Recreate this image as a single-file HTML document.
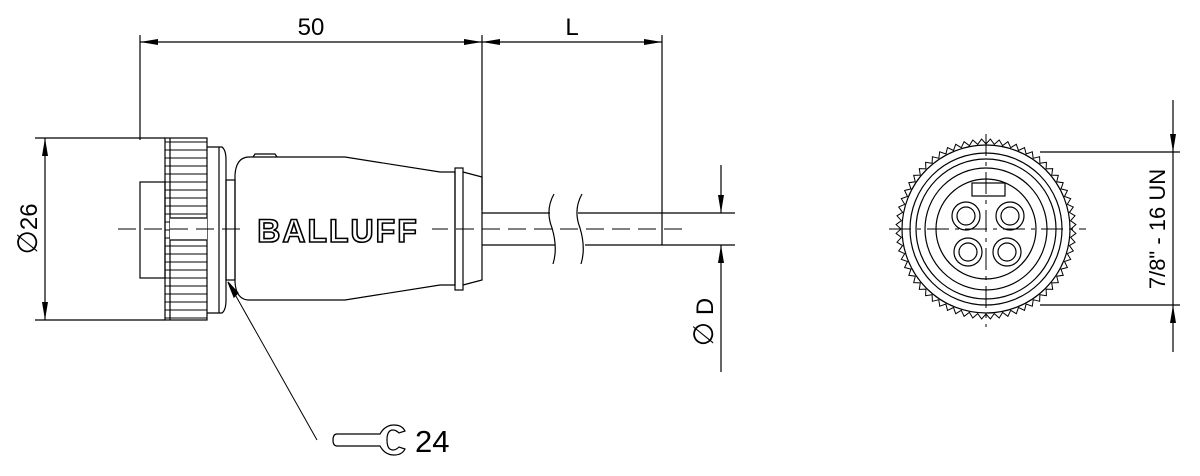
<!DOCTYPE html>
<html><head><meta charset="utf-8"><style>
html,body{margin:0;padding:0;background:#fff;}
svg{display:block;}
text{font-family:"Liberation Sans","DejaVu Sans",sans-serif;fill:#000;}
</style></head><body>
<svg width="1200" height="476" viewBox="0 0 1200 476" xmlns="http://www.w3.org/2000/svg">
<defs>
<marker id="ar" markerWidth="18" markerHeight="8" refX="18" refY="4" orient="auto" markerUnits="userSpaceOnUse">
<path d="M0,1 L18,4 L0,7 Z" fill="#000"/></marker>
<pattern id="knurl" x="0" y="138" width="42" height="8" patternUnits="userSpaceOnUse">
<line x1="0" y1="4" x2="42" y2="4" stroke="#000" stroke-width="1"/></pattern>
</defs>
<g stroke="#000" fill="none" stroke-width="1.2">
<line x1="140" y1="35" x2="140" y2="140"/>
<line x1="482" y1="35" x2="482" y2="210"/>
<line x1="662" y1="35" x2="662" y2="213"/>
<line x1="311" y1="42" x2="140" y2="42" marker-end="url(#ar)"/>
<line x1="311" y1="42" x2="482" y2="42" marker-end="url(#ar)"/>
<line x1="572" y1="42" x2="482" y2="42" marker-end="url(#ar)"/>
<line x1="572" y1="42" x2="662" y2="42" marker-end="url(#ar)"/>
<line x1="35" y1="138" x2="165" y2="138"/>
<line x1="35" y1="320" x2="165" y2="320"/>
<line x1="45" y1="229" x2="45" y2="138" marker-end="url(#ar)"/>
<line x1="45" y1="229" x2="45" y2="320" marker-end="url(#ar)"/>
<line x1="662" y1="213" x2="735" y2="213"/>
<line x1="662" y1="245" x2="735" y2="245"/>
<line x1="721" y1="165" x2="721" y2="213" marker-end="url(#ar)"/>
<line x1="721" y1="372" x2="721" y2="245" marker-end="url(#ar)"/>
<rect x="140" y="182" width="25" height="96"/>
<rect x="165" y="138" width="42" height="182" fill="url(#knurl)"/>
<line x1="170" y1="138" x2="170" y2="320"/>
<rect x="170" y="218" width="37" height="22" fill="#fff" stroke="none"/>
<line x1="170" y1="218" x2="207" y2="218"/><line x1="170" y1="240" x2="207" y2="240"/>
<path d="M207,147 L222,147 Q226,150 226,160 L226,300 Q226,310 222,313 L207,313"/>
<line x1="219" y1="147" x2="219" y2="313"/>
<rect x="226" y="180" width="9" height="100"/>
<path d="M235,175 Q236,158 248,157 L345,157 L440,172 L455,172 L455,285 L440,285 L345,300 L248,300 Q236,299 235,282 Z"/>
<path d="M253,157 L255,154 L275,154 L277,157"/>
<rect x="455" y="168" width="8" height="122"/>
<path d="M463,172 L482,177 L482,280 L463,285"/>
<line x1="482" y1="213" x2="550" y2="213"/>
<line x1="482" y1="245" x2="555" y2="245"/>
<line x1="578" y1="213" x2="662" y2="213"/>
<line x1="585" y1="245" x2="662" y2="245"/>
<line x1="662" y1="213" x2="662" y2="245"/>
<path d="M554,194 Q545,210 552,228 Q558,248 553,264"/>
<path d="M582,194 Q573,210 580,228 Q586,248 581,264"/>
<line x1="118" y1="229" x2="682" y2="229" stroke-dasharray="18,8" stroke-width="1"/>
<rect x="248" y="212" width="184" height="34" fill="#fff" stroke="none"/>
<line x1="228" y1="282" x2="317" y2="440" stroke-width="1"/>
<path d="M228,282 L234,297 L238,293 Z" fill="#000"/>
<path d="M337,434 L380,434 Q385,425 394,425 Q402,425 405,431 L399,433 Q396,430 393,430 Q387,430 387,440 Q387,450 393,450 Q396,450 399,447 L405,449 Q402,455 394,455 Q385,455 380,446 L337,446 Q333,446 333,440 Q333,434 337,434 Z"/>
<g transform="translate(986,229)">
<polygon id="teeth" points="" stroke-width="1"/>
<circle r="84"/>
<circle r="76"/>
<circle r="70"/>
<circle r="61"/>
<circle r="50"/>
<rect x="-14" y="-46" width="33" height="13"/>
<circle cx="-20" cy="-13" r="14"/><circle cx="-20" cy="-13" r="9"/>
<circle cx="24" cy="-13" r="14"/><circle cx="24" cy="-13" r="9"/>
<circle cx="-18" cy="23" r="14"/><circle cx="-18" cy="23" r="9"/>
<circle cx="21" cy="23" r="14"/><circle cx="21" cy="23" r="9"/>
<line x1="-97" y1="0" x2="100" y2="0" stroke-dasharray="22,6,4,6" stroke-width="1"/>
<line x1="0" y1="-95" x2="0" y2="98" stroke-dasharray="22,6,4,6" stroke-width="1"/>
</g>
<line x1="1040" y1="152" x2="1180" y2="152"/>
<line x1="1040" y1="305" x2="1180" y2="305"/>
<line x1="1173" y1="100" x2="1173" y2="152" marker-end="url(#ar)"/>
<line x1="1173" y1="352" x2="1173" y2="305" marker-end="url(#ar)"/>
<line x1="1173" y1="152" x2="1173" y2="305"/>
</g>
<text x="338" y="242" font-size="32" font-weight="bold" text-anchor="middle" stroke="#000" stroke-width="1.6" letter-spacing="2" style="fill:#fff">BALLUFF</text>
<text x="311" y="35" font-size="24" text-anchor="middle">50</text>
<text x="572" y="35" font-size="24" text-anchor="middle">L</text>
<text x="415" y="452" font-size="31">24</text>
<text transform="translate(37,229) rotate(-90)" font-size="24" text-anchor="middle"><tspan font-family="DejaVu Sans" font-size="28">∅</tspan>26</text>
<text transform="translate(713,322) rotate(-90)" font-size="24" text-anchor="middle"><tspan font-family="DejaVu Sans" font-size="28">∅</tspan> D</text>
<text transform="translate(1165,229) rotate(-90)" font-size="22" text-anchor="middle">7/8" - 16 UN</text>
</svg>
<script>
var p=[],n=64;
for(var i=0;i<2*n;i++){var a=i*Math.PI/n,r=(i%2)?90:85;p.push((r*Math.cos(a)).toFixed(1)+","+(r*Math.sin(a)).toFixed(1));}
document.getElementById("teeth").setAttribute("points",p.join(" "));
</script>
</body></html>
